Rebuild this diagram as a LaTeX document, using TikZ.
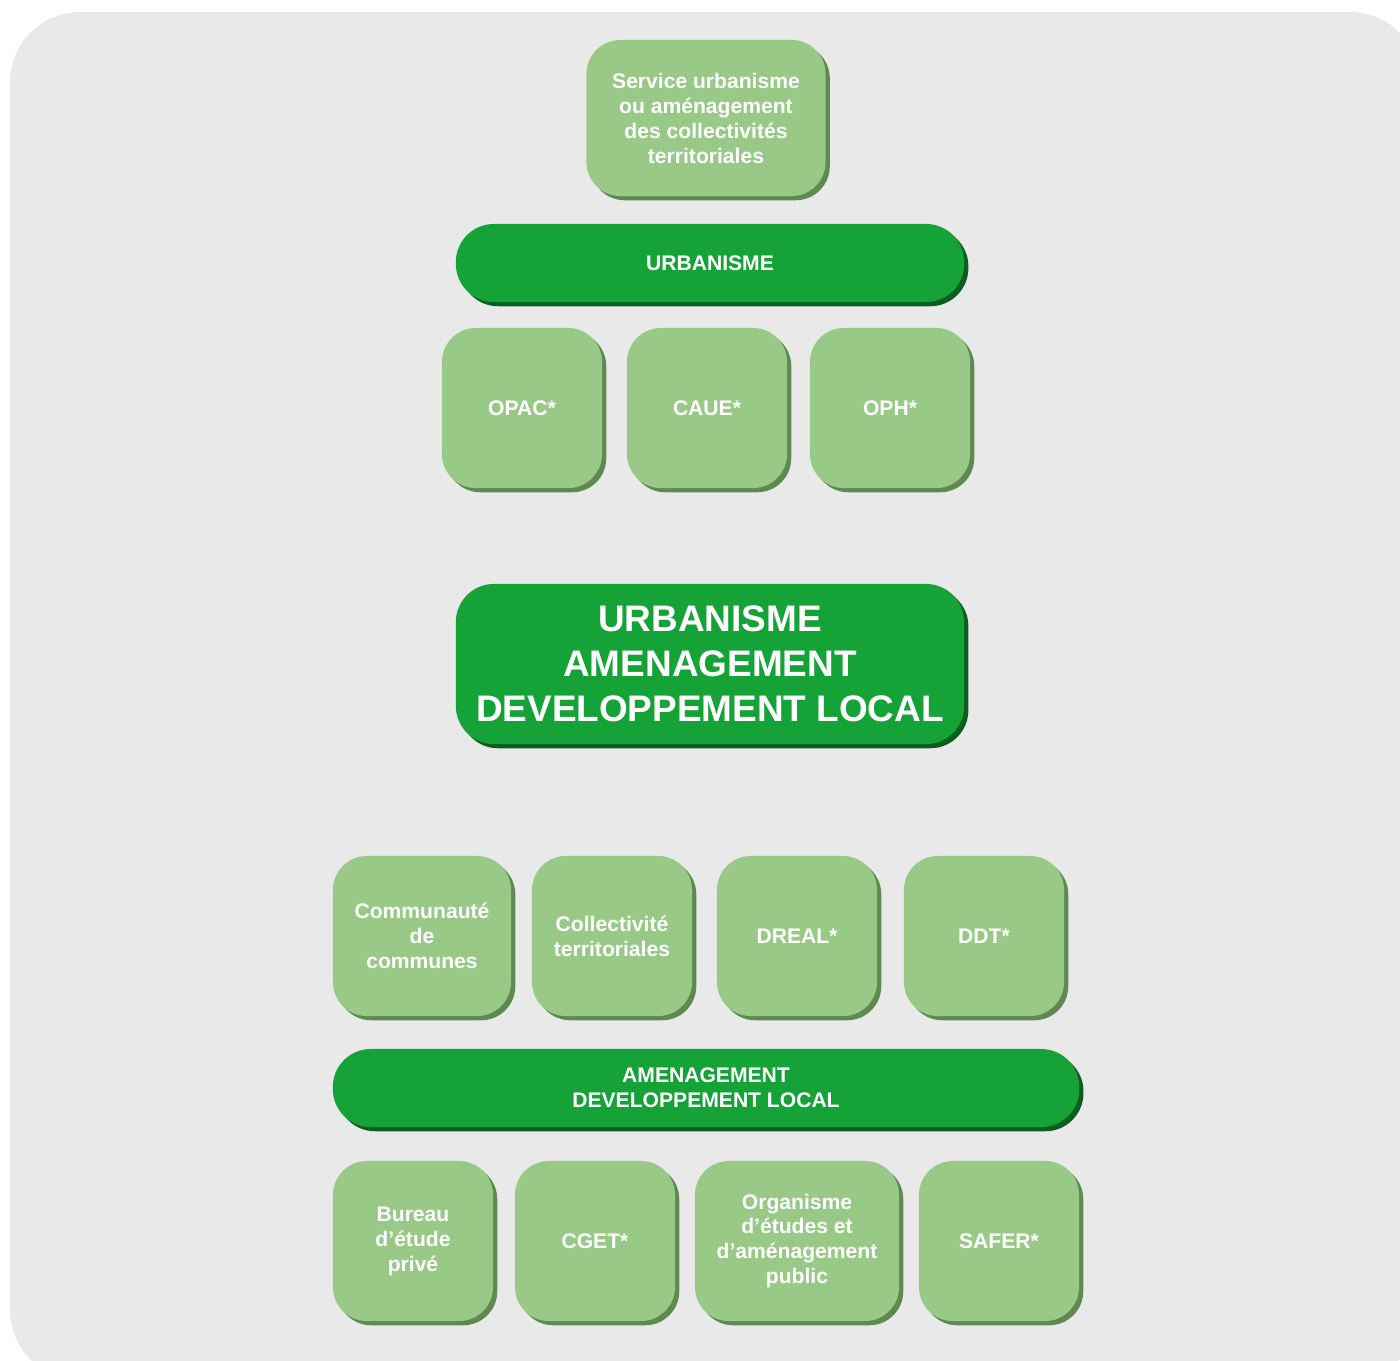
\documentclass[tikz,border=0pt]{standalone}
\usepackage{fontspec}
\setmainfont{Liberation Sans}
\definecolor{fond}{HTML}{E9E9E9}
\definecolor{vertclair}{HTML}{98C987}
\definecolor{vertclairombre}{HTML}{5E8A52}
\definecolor{vertfonce}{HTML}{15A338}
\definecolor{vertfonceombre}{HTML}{0B5E1F}

\begin{document}
\begin{tikzpicture}[x=0.01cm,y=-0.01cm,
  boite/.style={rounded corners=0.34cm,fill=vertclair,text=white,font=\bfseries\fontsize{6}{7.1}\selectfont,
    align=center,inner sep=0pt,
    preaction={fill=vertclairombre,transform canvas={shift={(1.2pt,-1.2pt)}}}},
  barre/.style={rounded corners=0.38cm,fill=vertfonce,text=white,font=\bfseries\fontsize{6}{7.1}\selectfont,
    align=center,inner sep=0pt,
    preaction={fill=vertfonceombre,transform canvas={shift={(1.2pt,-1.2pt)}}}}]
\useasboundingbox (0,0) rectangle (1400,1360);
\fill[fond,rounded corners=0.7cm] (10,12) rectangle (1420,1380);
\node[boite,minimum width=2.39cm,minimum height=1.56cm] (serv) at (706,118) {Service urbanisme\\ou aménagement\\des collectivités\\territoriales};
\node[barre,minimum width=5.08cm,minimum height=0.78cm] (urb) at (710,263) {URBANISME};
\node[boite,minimum width=1.6cm,minimum height=1.6cm] (opac) at (522,408) {OPAC*};
\node[boite,minimum width=1.6cm,minimum height=1.6cm] (caue) at (707,408) {CAUE*};
\node[boite,minimum width=1.6cm,minimum height=1.6cm] (oph) at (890,408) {OPH*};
\node[barre,minimum width=5.08cm,minimum height=1.6cm,font=\bfseries\fontsize{10.5}{12.8}\selectfont] (centre) at (710,664) {URBANISME\\AMENAGEMENT\\DEVELOPPEMENT LOCAL};
\node[boite,minimum width=1.78cm,minimum height=1.6cm] (comm) at (422,936) {Communauté\\de\\communes};
\node[boite,minimum width=1.6cm,minimum height=1.6cm] (coll) at (612,936) {Collectivité\\territoriales};
\node[boite,minimum width=1.6cm,minimum height=1.6cm] (dreal) at (797,936) {DREAL*};
\node[boite,minimum width=1.6cm,minimum height=1.6cm] (ddt) at (984,936) {DDT*};
\node[barre,minimum width=7.46cm,minimum height=0.78cm] (amen) at (706,1088) {AMENAGEMENT\\DEVELOPPEMENT LOCAL};
\node[boite,minimum width=1.6cm,minimum height=1.6cm] (bureau) at (413,1241) {Bureau\\d’étude\\privé};
\node[boite,minimum width=1.6cm,minimum height=1.6cm] (cget) at (595,1241) {CGET*};
\node[boite,minimum width=2.04cm,minimum height=1.6cm] (org) at (797,1241) {Organisme\\d’études et\\d’aménagement\\public};
\node[boite,minimum width=1.6cm,minimum height=1.6cm] (safer) at (999,1241) {SAFER*};
\end{tikzpicture}
\end{document}
